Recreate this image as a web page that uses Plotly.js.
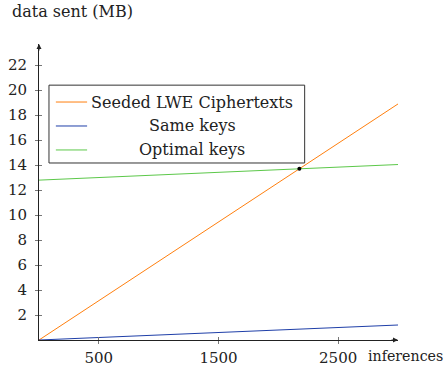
<!DOCTYPE html>
<html><head><meta charset="utf-8">
<script src="https://cdn.plot.ly/plotly-3.0.1.min.js"></script>
<style>html,body{margin:0;padding:0;background:#fff}#c{width:445px;height:369px}</style>
</head><body><div id="c"></div>
<script>
const seriesNames = ["Seeded LWE Ciphertexts", "Same keys", "Optimal keys"];
const seriesColors = ["#ff7f0e", "#1f3fa8", "#5cc84a"];
const inferences = [0, 3000];
const seededMB = [0, 18.9];
const sameKeysMB = [0, 1.2];
const optimalKeysMB = [12.8, 14.05];
const xTicks = [500, 1500, 2500];
const yTicks = [2, 4, 6, 8, 10, 12, 14, 16, 18, 20, 22];

const FONT = "DejaVu Serif";
const FS = 15;
const ys = [seededMB, sameKeysMB, optimalKeysMB];
const traces = ys.map((y, i) => ({
  x: inferences, y: y, type: "scatter", mode: "lines", name: seriesNames[i],
  line: {color: seriesColors[i], width: 1}, showlegend: false, hoverinfo: "skip"
}));
const s1 = (seededMB[1]-seededMB[0])/(inferences[1]-inferences[0]);
const s2 = (optimalKeysMB[1]-optimalKeysMB[0])/(inferences[1]-inferences[0]);
const xi = inferences[0] + (optimalKeysMB[0]-seededMB[0])/(s1-s2);
const yi = seededMB[0] + s1*(xi-inferences[0]);
traces.push({x:[xi], y:[yi], type:"scatter", mode:"markers", marker:{color:"#000", size:4}, showlegend:false, hoverinfo:"skip"});
traces.push({x:[0], y:[0], xaxis:"x2", yaxis:"y2", type:"scatter", mode:"markers", marker:{opacity:0}, showlegend:false, hoverinfo:"skip"});

const xr = [0, 3000], yr = [0, 23.7];
const tickStyle = {ticklen: 3, tickwidth: 1, tickcolor: "#777"};
const layout = {
  width: 445, height: 369,
  margin: {l: 39, r: 46.5, t: 44, b: 29},
  paper_bgcolor: "#fff", plot_bgcolor: "#fff",
  font: {family: FONT, size: FS, color: "#222"},
  xaxis: Object.assign({range: xr, showgrid: false, zeroline: false, showline: true, linecolor: "#222", linewidth: 1,
    tickmode: "array", tickvals: xTicks, ticktext: xTicks.map(String), ticks: "outside", ticklabelstandoff: 1,
    tickfont: {family: FONT, size: FS, color: "#222"}}, tickStyle),
  yaxis: Object.assign({range: yr, showgrid: false, zeroline: false, showline: true, linecolor: "#222", linewidth: 1,
    tickmode: "array", tickvals: yTicks, ticktext: yTicks.map(String), ticks: "outside", ticklabelstandoff: 5,
    tickfont: {family: FONT, size: FS, color: "#222"}}, tickStyle),
  xaxis2: Object.assign({range: xr, overlaying: "x", showgrid: false, zeroline: false, showticklabels: false,
    tickmode: "array", tickvals: xTicks, ticks: "inside"}, tickStyle),
  yaxis2: Object.assign({range: yr, overlaying: "y", showgrid: false, zeroline: false, showticklabels: false,
    tickmode: "array", tickvals: yTicks, ticks: "inside"}, tickStyle),
  shapes: [], annotations: []
};
layout.annotations.push({xref:"paper", yref:"paper", x:1.0, y:0, ax:-8, ay:0, text:"", showarrow:true, arrowhead:2, arrowsize:1, arrowwidth:1, arrowcolor:"#222"});
layout.annotations.push({xref:"paper", yref:"paper", x:0, y:1.0, ax:0, ay:8, text:"", showarrow:true, arrowhead:2, arrowsize:1, arrowwidth:1, arrowcolor:"#222"});
layout.annotations.push({xref:"paper", yref:"paper", x:-0.081, y:1.11, xanchor:"left", yanchor:"middle", text:"data sent (MB)", showarrow:false, font:{family:FONT, size:16, color:"#222"}});
layout.annotations.push({xref:"paper", yref:"paper", x:0.910, y:-0.054, xanchor:"left", yanchor:"middle", text:"inferences", showarrow:false, font:{family:FONT, size:14.2, color:"#222"}});
const lx0 = 0.0278, lx1 = 0.74, ly0 = 0.598, ly1 = 0.861;
layout.shapes.push({type:"rect", xref:"paper", yref:"paper", x0:lx0, x1:lx1, y0:ly0, y1:ly1, line:{color:"#333", width:1}, fillcolor:"#fff", layer:"above"});
const entryY = [0.804, 0.723, 0.642];
seriesNames.forEach((n, i) => {
  layout.shapes.push({type:"line", xref:"paper", yref:"paper", x0:0.047, x1:0.134, y0:entryY[i], y1:entryY[i], line:{color:seriesColors[i], width:1}, layer:"above"});
  layout.annotations.push({xref:"paper", yref:"paper", x:0.427, y:entryY[i], xanchor:"center", yanchor:"middle", text:n, showarrow:false, font:{family:FONT, size:16, color:"#222"}});
});
Plotly.newPlot("c", traces, layout, {staticPlot: true, displayModeBar: false});
</script></body></html>
